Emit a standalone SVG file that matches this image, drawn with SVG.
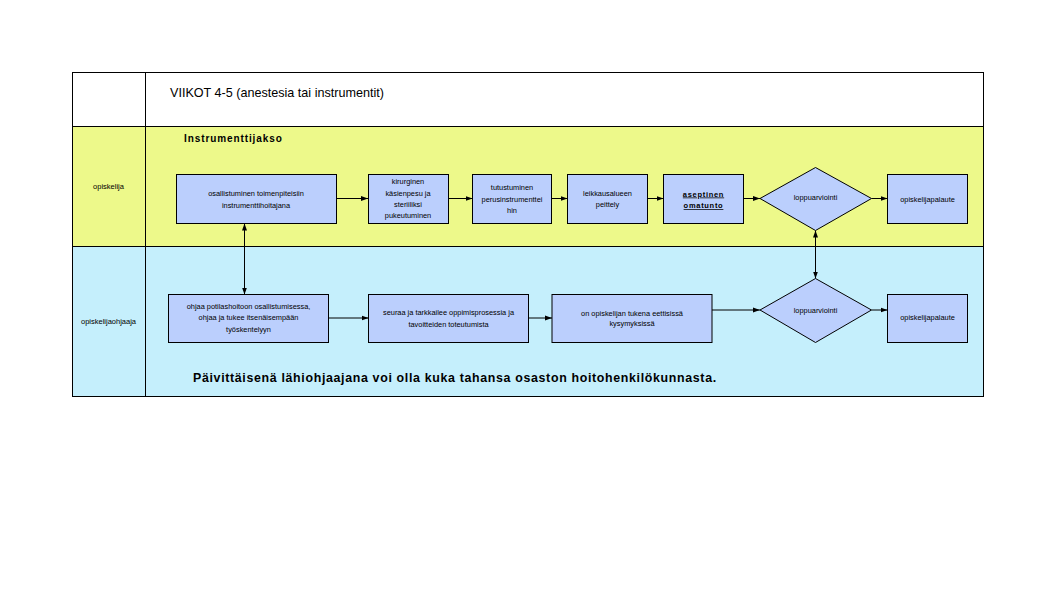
<svg xmlns="http://www.w3.org/2000/svg" width="1056" height="616" viewBox="0 0 1056 616">
<style>
.t{font-family:"Liberation Sans",Arial,sans-serif;font-size:7.4px;fill:#000;text-anchor:middle}
.box{fill:#BBCFFD;stroke:#000;stroke-width:1}
.c{stroke:#000;stroke-width:1;fill:none}
.lane{stroke:#000;stroke-width:1}
</style>
<defs>
<marker id="ah" markerUnits="userSpaceOnUse" markerWidth="8" markerHeight="6" refX="7" refY="3" orient="auto-start-reverse">
<path d="M0,0.5 L7,3 L0,5.5 Z" fill="#000"/>
</marker>
</defs>
<rect width="1056" height="616" fill="#fff"/>
<g id="lanes">
<rect x="72.5" y="72.5" width="911" height="54" fill="#fff" class="lane"/>
<rect x="72.5" y="126.5" width="911" height="120" fill="#EDF98A" class="lane"/>
<rect x="72.5" y="246.5" width="911" height="150" fill="#C5EFFC" class="lane"/>
<line x1="145.5" y1="72.5" x2="145.5" y2="396.5" class="lane"/>
<text x="170" y="97" style="font-family:'Liberation Sans',Arial,sans-serif;font-size:12.6px">VIIKOT 4-5 (anestesia tai instrumentit)</text>
<text x="184" y="142" style="font-family:'Liberation Sans',Arial,sans-serif;font-size:10px;font-weight:bold;letter-spacing:0.9px">Instrumenttijakso</text>
<text x="108.5" y="189" class="t" style="font-size:7.5px">opiskelija</text>
<text x="108.5" y="323.5" class="t" style="font-size:7.5px">opiskelijaohjaaja</text>
<text x="193" y="382" style="font-family:'Liberation Sans',Arial,sans-serif;font-size:12.4px;font-weight:bold;letter-spacing:0.66px">Päivittäisenä lähiohjaajana voi olla kuka tahansa osaston hoitohenkilökunnasta.</text>
</g>
<g id="connectors">
<line x1="336" y1="198.5" x2="368" y2="198.5" class="c" marker-end="url(#ah)"/>
<line x1="448" y1="198.5" x2="472.5" y2="198.5" class="c" marker-end="url(#ah)"/>
<line x1="551.5" y1="198.5" x2="567.5" y2="198.5" class="c" marker-end="url(#ah)"/>
<line x1="647.5" y1="198.5" x2="663.5" y2="198.5" class="c" marker-end="url(#ah)"/>
<line x1="744" y1="198.5" x2="760" y2="198.5" class="c" marker-end="url(#ah)"/>
<line x1="871.5" y1="198.5" x2="887.5" y2="198.5" class="c" marker-end="url(#ah)"/>
<line x1="328.5" y1="318" x2="368.5" y2="318" class="c" marker-end="url(#ah)"/>
<line x1="528.5" y1="318" x2="552" y2="318" class="c" marker-end="url(#ah)"/>
<line x1="711.5" y1="310" x2="760" y2="310" class="c" marker-end="url(#ah)"/>
<line x1="871.5" y1="310" x2="887.5" y2="310" class="c" marker-end="url(#ah)"/>
<line x1="244.5" y1="223.5" x2="244.5" y2="294.5" class="c" marker-start="url(#ah)" marker-end="url(#ah)"/>
<line x1="815.5" y1="230.5" x2="815.5" y2="278.5" class="c" marker-start="url(#ah)" marker-end="url(#ah)"/>
</g>
<g id="n1">
<rect x="176.5" y="174.5" width="160" height="49" class="box"/>
<text x="256" y="196" class="t">osallistuminen toimenpiteisiin</text>
<text x="256" y="207.5" class="t">instrumenttihoitajana</text>
</g>
<g id="n2">
<rect x="368.5" y="174.5" width="80" height="49" class="box"/>
<text x="408" y="184.3" class="t">kirurginen</text>
<text x="408" y="195.8" class="t">käsienpesu ja</text>
<text x="408" y="207" class="t">steriiliksi</text>
<text x="408" y="218.3" class="t">pukeutuminen</text>
</g>
<g id="n3">
<rect x="472.5" y="174.5" width="79" height="49" class="box"/>
<text x="512" y="190.3" class="t">tutustuminen</text>
<text x="512" y="201.8" class="t">perusinstrumenttei</text>
<text x="512" y="213.2" class="t">hin</text>
</g>
<g id="n4">
<rect x="567.5" y="174.5" width="80" height="49" class="box"/>
<text x="607.5" y="195.8" class="t">leikkausalueen</text>
<text x="607.5" y="207" class="t">peittely</text>
</g>
<g id="n5">
<rect x="663.5" y="174.5" width="80" height="49" class="box"/>
<text x="703.5" y="196.5" class="t" style="font-weight:bold;font-size:7.5px;letter-spacing:0.7px;text-decoration:underline">aseptinen</text>
<text x="703.5" y="208" class="t" style="font-weight:bold;font-size:7.5px;letter-spacing:0.7px;text-decoration:underline">omatunto</text>
</g>
<g id="n6">
<polygon points="815.5,167.5 871.5,198.5 815.5,230.5 760,198.5" class="box"/>
<text x="815.5" y="200.3" class="t">loppuarviointi</text>
</g>
<g id="n7">
<rect x="887.5" y="174.5" width="80" height="49" class="box"/>
<text x="927.5" y="201.5" class="t">opiskelijapalaute</text>
</g>
<g id="n8">
<rect x="168.5" y="294.5" width="160" height="48" class="box"/>
<text x="248.5" y="309.3" class="t">ohjaa potilashoitoon osallistumisessa,</text>
<text x="248.5" y="320.4" class="t">ohjaa ja tukee itsenäisempään</text>
<text x="248.5" y="331.7" class="t">työskentelyyn</text>
</g>
<g id="n9">
<rect x="368.5" y="294.5" width="160" height="48" class="box"/>
<text x="448.5" y="315.3" class="t">seuraa ja tarkkailee oppimisprosessia ja</text>
<text x="448.5" y="326.6" class="t">tavoitteiden toteutumista</text>
</g>
<g id="n10">
<rect x="552" y="294.5" width="160" height="48" class="box"/>
<text x="632" y="315.8" class="t">on opiskelijan tukena eettisissä</text>
<text x="632" y="326.2" class="t">kysymyksissä</text>
</g>
<g id="n11">
<polygon points="815.5,278.5 871.5,310 815.5,342.5 760,310" class="box"/>
<text x="815.5" y="312.5" class="t">loppuarviointi</text>
</g>
<g id="n12">
<rect x="887.5" y="294.5" width="80" height="48" class="box"/>
<text x="927.5" y="320.2" class="t">opiskelijapalaute</text>
</g>
</svg>
